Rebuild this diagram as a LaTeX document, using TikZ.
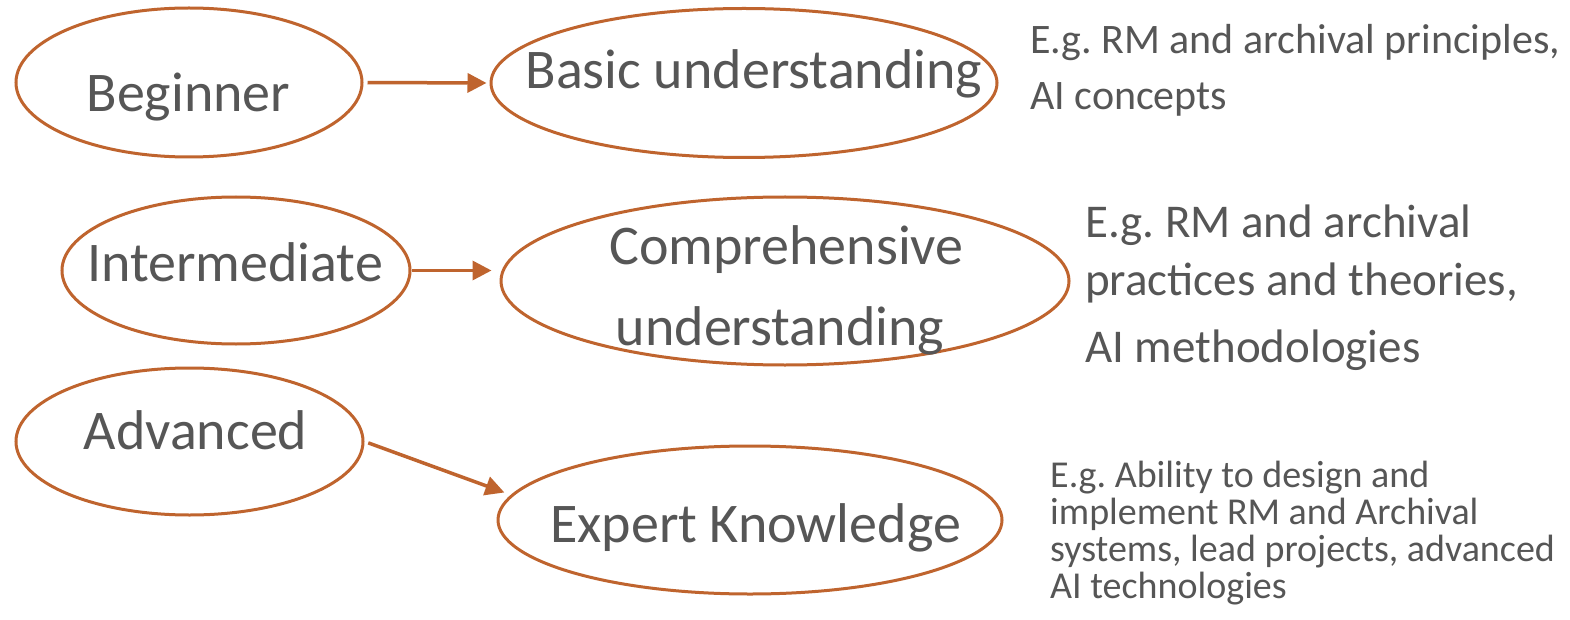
\documentclass[tikz,border=0pt]{standalone}
\usepackage{fontspec}
\setmainfont{Carlito}
\frenchspacing
\usetikzlibrary{shapes.geometric,arrows.meta}
\definecolor{rust}{HTML}{BF642E}
\definecolor{txtgrey}{HTML}{565656}
\tikzset{
  ell/.style={ellipse, draw=rust, line width=3pt, inner sep=0pt, fill=white},
  big/.style={font=\fontsize{56}{67}\selectfont, text=txtgrey, inner sep=0pt, anchor=base},
  noteA/.style={font=\fontsize{42}{50}\selectfont, text=txtgrey, inner sep=0pt, anchor=base west},
  noteB/.style={font=\fontsize{47}{56}\selectfont, text=txtgrey, inner sep=0pt, anchor=base west},
  noteC/.style={font=\fontsize{38}{45}\selectfont, text=txtgrey, inner sep=0pt, anchor=base west},
  arr/.style={draw=rust, line width=3.5pt, -{Triangle[length=19pt,width=19pt]}}
}
\begin{document}
\begin{tikzpicture}[x=1pt,y=-1pt]
\useasboundingbox[fill=white] (0,0) rectangle (1570,620);

% ellipses
\node[ell, minimum width=346pt, minimum height=149pt] (beg) at (189,82.5) {};
\node[ell, minimum width=506pt, minimum height=149pt] (bas) at (744,83) {};
\node[ell, minimum width=348pt, minimum height=147pt] (int) at (236,270.5) {};
\node[ell, minimum width=568pt, minimum height=168pt] (comp) at (785,281) {};
\node[ell, minimum width=347pt, minimum height=147pt] (adv) at (189.5,441.5) {};
\node[ell, minimum width=504pt, minimum height=148pt] (exp) at (750,520) {};

% ellipse texts
\node[big] (begt) at (188.5,112) {Beginner};
\node[big] (bast) at (754,89) {Basic understanding};
\node[big] (intt) at (235,281) {Intermediate};
\node[big] (compt1) at (786.5,265) {Comprehensive};
\node[big] (compt2) at (780,345) {understanding};
\node[big] (advt) at (195.5,449) {Advanced};
\node[big] (expt) at (755.5,542) {Expert Knowledge};

% connectors
\draw[arr, shorten <=4pt, shorten >=3pt] (beg.east) -- (bas.west);
\draw[arr, shorten >=8pt] (int.east) -- (int.east -| comp.west);
\draw[arr, shorten <=4pt, shorten >=7pt] (adv.east) -- (exp.174.7);

% notes
\node[noteA] (n1a) at (1030,54) {E.g. RM and archival principles,};
\node[noteA] (n1b) at (1030,110) {AI concepts};

\node[noteB] (n2a) at (1085,238) {E.g. RM and archival};
\node[noteB] (n2b) at (1085,295) {practices and theories,};
\node[noteB] (n2c) at (1085,362) {AI methodologies};

\node[noteC] (n3a) at (1050,487) {E.g. Ability to design and};
\node[noteC] (n3b) at (1050,524) {implement RM and Archival};
\node[noteC] (n3c) at (1050,561) {systems, lead projects, advanced};
\node[noteC] (n3d) at (1050,598) {AI technologies};
\end{tikzpicture}
\end{document}
